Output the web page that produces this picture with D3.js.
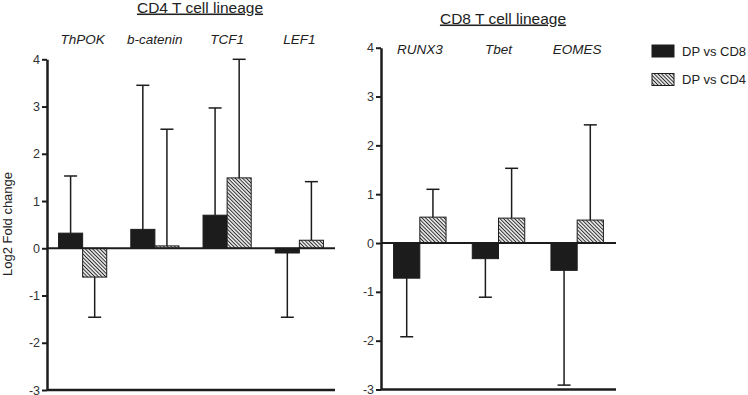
<!DOCTYPE html>
<html>
<head>
<meta charset="utf-8">
<script src="https://cdn.jsdelivr.net/npm/d3@7"></script>
<style>
  body { margin: 0; background: #fff; }
  svg { display: block; font-family: "Liberation Sans", Arial, sans-serif; }
</style>
</head>
<body>
<div id="chart"></div>
<script>
// Data
const series = ['DP vs CD8', 'DP vs CD4'];
const yTicks = [-3, -2, -1, 0, 1, 2, 3, 4];

const cd4Title = 'CD4 T cell lineage';
const cd4Genes = ['ThPOK', 'b-catenin', 'TCF1', 'LEF1'];
const cd4VsCD8 = [0.32, 0.40, 0.70, -0.10];
const cd4VsCD8Err = [1.21, 3.05, 2.27, 1.36];
const cd4VsCD4 = [-0.61, 0.05, 1.49, 0.17];
const cd4VsCD4Err = [0.85, 2.47, 2.51, 1.24];

const cd8Title = 'CD8 T cell lineage';
const cd8Genes = ['RUNX3', 'Tbet', 'EOMES'];
const cd8VsCD8 = [-0.72, -0.32, -0.56];
const cd8VsCD8Err = [1.20, 0.79, 2.35];
const cd8VsCD4 = [0.53, 0.51, 0.47];
const cd8VsCD4Err = [0.57, 1.02, 1.95];

const panels = [
  { title: cd4Title, genes: cd4Genes, values: [cd4VsCD8, cd4VsCD4], errors: [cd4VsCD8Err, cd4VsCD4Err],
    x0: 47, x1: 335, yTop: 59.3, yBottom: 390, titleX: 200, titleY: 12.5, geneY: 44 },
  { title: cd8Title, genes: cd8Genes, values: [cd8VsCD8, cd8VsCD4], errors: [cd8VsCD8Err, cd8VsCD4Err],
    x0: 381, x1: 616, yTop: 47.7, yBottom: 389.5, titleX: 503, titleY: 23.5, geneY: 53.5 }
];

const width = 748, height = 395;
const ink = '#1c1c1c';

const svg = d3.select('#chart')
  .append('svg')
  .attr('width', width)
  .attr('height', height);

// hatch pattern
svg.append('defs')
  .append('pattern')
  .attr('id', 'hatch')
  .attr('patternUnits', 'userSpaceOnUse')
  .attr('width', 2.6)
  .attr('height', 2.6)
  .attr('patternTransform', 'rotate(-45)')
  .call(p => {
    p.append('rect').attr('width', 2.6).attr('height', 2.6).attr('fill', '#fff');
    p.append('line')
      .attr('x1', 1.3).attr('x2', 1.3)
      .attr('y1', 0).attr('y2', 2.6)
      .attr('stroke', '#2a2a2a')
      .attr('stroke-width', 1.1);
  });

const fills = [ink, 'url(#hatch)'];

panels.forEach(panel => {
  const yScale = d3.scaleLinear()
    .domain([-3, 4])
    .range([panel.yBottom, panel.yTop]);

  const xScale = d3.scaleBand()
    .domain(panel.genes)
    .range([panel.x0, panel.x1])
    .paddingInner(1 / 3)
    .paddingOuter(0.16);

  const xInner = d3.scaleBand()
    .domain(series)
    .range([0, xScale.bandwidth()]);

  const g = svg.append('g');

  // title
  g.append('text')
    .attr('x', panel.titleX)
    .attr('y', panel.titleY)
    .attr('text-anchor', 'middle')
    .attr('fill', '#222')
    .style('font-size', '15.5px')
    .style('text-decoration', 'underline')
    .text(panel.title);

  // gene labels
  g.selectAll('.gene')
    .data(panel.genes)
    .join('text')
    .attr('x', d => xScale(d) + xScale.bandwidth() / 2)
    .attr('y', panel.geneY)
    .attr('text-anchor', 'middle')
    .attr('fill', '#222')
    .style('font-size', '13.5px')
    .style('font-style', 'italic')
    .text(d => d);

  // bars + error bars
  series.forEach((s, si) => {
    const rows = panel.genes.map((gene, i) => ({
      gene, v: panel.values[si][i], e: panel.errors[si][i]
    }));
    const bx = d => xScale(d.gene) + xInner(s);
    const bw = xInner.bandwidth();
    const tip = d => yScale(d.v + Math.sign(d.v) * d.e);

    g.selectAll('.err' + si)
      .data(rows)
      .join('line')
      .attr('x1', d => bx(d) + bw / 2)
      .attr('x2', d => bx(d) + bw / 2)
      .attr('y1', d => yScale(d.v))
      .attr('y2', tip)
      .attr('stroke', ink)
      .attr('stroke-width', 1.5);

    g.selectAll('.cap' + si)
      .data(rows)
      .join('line')
      .attr('x1', d => bx(d) + bw / 2 - 6.5)
      .attr('x2', d => bx(d) + bw / 2 + 6.5)
      .attr('y1', tip)
      .attr('y2', tip)
      .attr('stroke', ink)
      .attr('stroke-width', 1.5);

    g.selectAll('.bar' + si)
      .data(rows)
      .join('rect')
      .attr('x', d => bx(d))
      .attr('width', bw)
      .attr('y', d => yScale(Math.max(0, d.v)))
      .attr('height', d => Math.abs(yScale(d.v) - yScale(0)))
      .attr('fill', fills[si])
      .attr('stroke', ink)
      .attr('stroke-width', 1);
  });

  // zero line and bottom line
  g.append('line')
    .attr('x1', panel.x0).attr('x2', panel.x1)
    .attr('y1', yScale(0)).attr('y2', yScale(0))
    .attr('stroke', ink)
    .attr('stroke-width', 2);

  g.append('line')
    .attr('x1', panel.x0).attr('x2', panel.x1)
    .attr('y1', yScale(-3)).attr('y2', yScale(-3))
    .attr('stroke', ink)
    .attr('stroke-width', 2.5);

  // y axis
  const yAxis = d3.axisLeft(yScale)
    .tickValues(yTicks)
    .tickSize(5)
    .tickSizeOuter(0)
    .tickPadding(2)
    .tickFormat(d => String(d));

  const yAxisGroup = g.append('g')
    .attr('transform', `translate(${panel.x0},0)`)
    .call(yAxis);

  yAxisGroup.select('.domain')
    .attr('stroke', ink)
    .attr('stroke-width', 2.5);
  yAxisGroup.selectAll('.tick line')
    .attr('stroke', ink)
    .attr('stroke-width', 2);
  yAxisGroup.selectAll('.tick text')
    .attr('fill', '#333')
    .style('font-size', '12.5px')
    .style('font-family', '"Liberation Sans", Arial, sans-serif');
});

// y axis title
svg.append('text')
  .attr('transform', 'translate(12,224) rotate(-90)')
  .attr('text-anchor', 'middle')
  .attr('fill', '#222')
  .style('font-size', '13px')
  .text('Log2 Fold change');

// legend
const legend = svg.append('g')
  .selectAll('g')
  .data(series)
  .join('g')
  .attr('transform', (d, i) => `translate(652,${45 + i * 28.5})`);

legend.append('rect')
  .attr('width', 22)
  .attr('height', 12)
  .attr('fill', (d, i) => fills[i])
  .attr('stroke', ink)
  .attr('stroke-width', 1);

legend.append('text')
  .attr('x', 30)
  .attr('y', 10.5)
  .attr('fill', '#222')
  .style('font-size', '13px')
  .text(d => d);
</script>
</body>
</html>
